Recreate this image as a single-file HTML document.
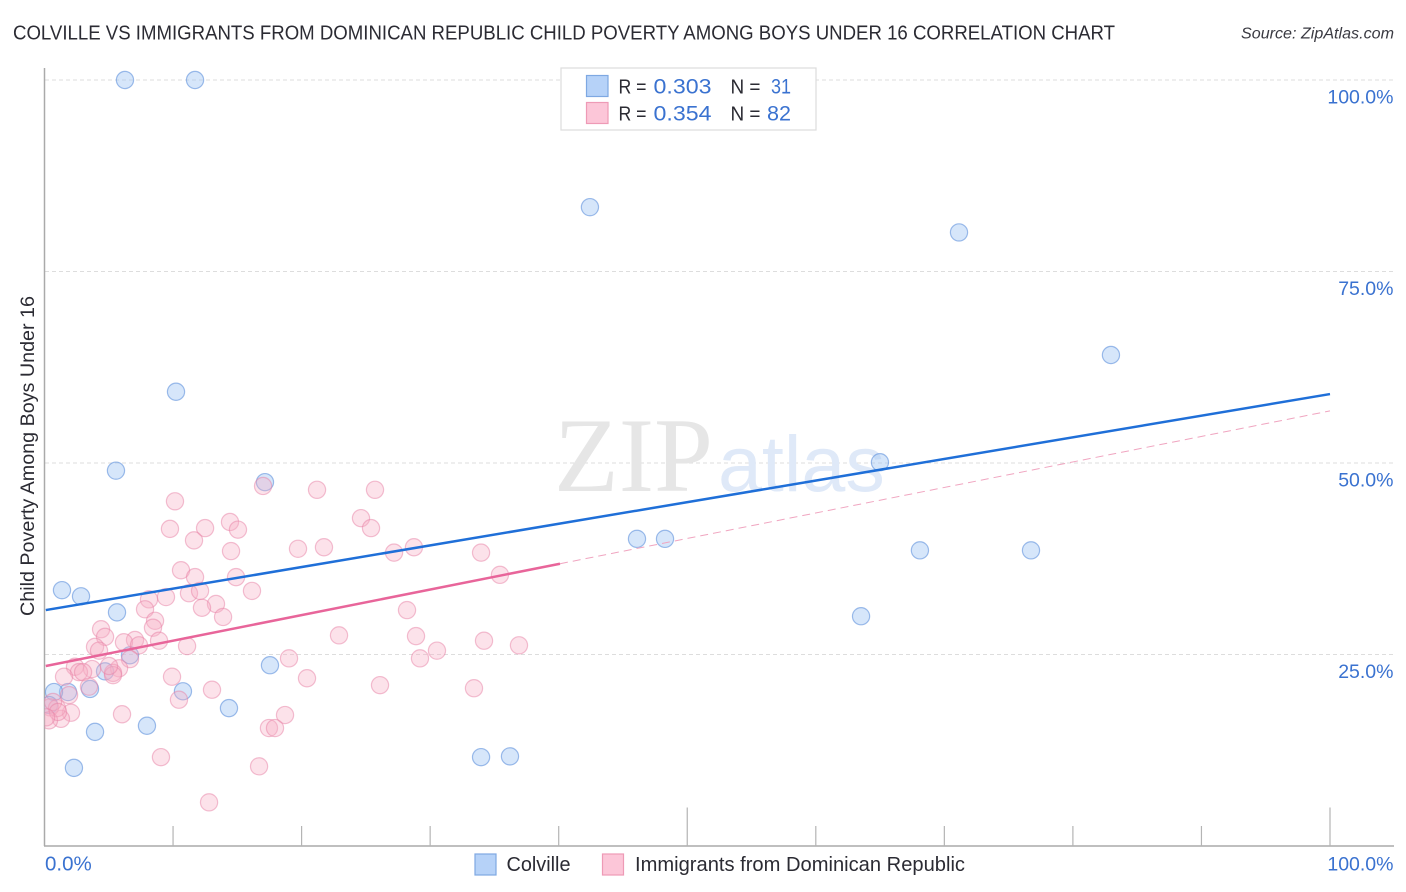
<!DOCTYPE html>
<html lang="en">
<head>
<meta charset="utf-8">
<title>Colville vs Immigrants from Dominican Republic Child Poverty Correlation Chart</title>
<style>
html,body{margin:0;padding:0;background:#fff;}
svg{display:block;font-family:"Liberation Sans",sans-serif;}
</style>
</head>
<body>
<svg id="chart" xmlns="http://www.w3.org/2000/svg" width="1406" height="892" viewBox="0 0 1406 892">
  <defs>
    <clipPath id="plot-clip"><rect x="44.5" y="60" width="1350" height="786"/></clipPath>
  </defs>
  <text x="13" y="39.5" font-size="20" fill="#2b2b33" textLength="1102" lengthAdjust="spacingAndGlyphs">COLVILLE VS IMMIGRANTS FROM DOMINICAN REPUBLIC CHILD POVERTY AMONG BOYS UNDER 16 CORRELATION CHART</text>
  <text x="1241" y="38.5" font-size="15.5" font-style="italic" fill="#3a3a42" textLength="153" lengthAdjust="spacingAndGlyphs">Source: ZipAtlas.com</text>
  <g id="grid"></g>
  <g>
    <text x="554" y="491" font-family="'Liberation Serif',serif" font-size="106" fill="#e6e6e6">ZIP</text>
    <text x="718" y="491" font-size="79" fill="#dfe9f8">atlas</text>
  </g>
  <g id="axes">
    <line x1="44.5" y1="68" x2="44.5" y2="846" stroke="#aaaaaa" stroke-width="1.5"/>
    <line x1="44" y1="846" x2="1394" y2="846" stroke="#aaaaaa" stroke-width="1.5"/>
  </g>
  <g id="points" clip-path="url(#plot-clip)"></g>
  <g id="trends"></g>
  <g id="tick-labels"></g>
  <text transform="translate(34,616) rotate(-90)" font-size="19" fill="#2b2b33" textLength="320" lengthAdjust="spacingAndGlyphs">Child Poverty Among Boys Under 16</text>

  <g>
    <rect x="561" y="68" width="255" height="62" fill="#fff" stroke="#dcdcdc" stroke-width="1.2"/>
    <rect x="586.5" y="75.5" width="21.5" height="21" fill="#b6d2f8" stroke="#7ea8e2" stroke-width="1.2"/>
    <rect x="586.5" y="102.5" width="21.5" height="21" fill="#fcc6d8" stroke="#ee9ab6" stroke-width="1.2"/>
    <text x="618.5" y="93.5" font-size="20" fill="#2b2b33" textLength="28" lengthAdjust="spacingAndGlyphs">R =</text>
    <text x="653.5" y="93.5" font-size="21" fill="#3a72d0" textLength="58" lengthAdjust="spacingAndGlyphs">0.303</text>
    <text x="730.5" y="93.5" font-size="20" fill="#2b2b33" textLength="30" lengthAdjust="spacingAndGlyphs">N =</text>
    <text x="771" y="93.5" font-size="21" fill="#3a72d0" textLength="20" lengthAdjust="spacingAndGlyphs">31</text>
    <text x="618.5" y="120.5" font-size="20" fill="#2b2b33" textLength="28" lengthAdjust="spacingAndGlyphs">R =</text>
    <text x="653.5" y="120.5" font-size="21" fill="#3a72d0" textLength="58" lengthAdjust="spacingAndGlyphs">0.354</text>
    <text x="730.5" y="120.5" font-size="20" fill="#2b2b33" textLength="30" lengthAdjust="spacingAndGlyphs">N =</text>
    <text x="767" y="120.5" font-size="21" fill="#3a72d0" textLength="24" lengthAdjust="spacingAndGlyphs">82</text>
  </g>

  <g>
    <rect x="475" y="854" width="21" height="21" fill="#b6d2f8" stroke="#7ea8e2" stroke-width="1.2"/>
    <text x="506.5" y="871" font-size="20" fill="#2b2b33" textLength="64" lengthAdjust="spacingAndGlyphs">Colville</text>
    <rect x="602.5" y="854" width="21" height="21" fill="#fcc6d8" stroke="#ee9ab6" stroke-width="1.2"/>
    <text x="635" y="871" font-size="20" fill="#2b2b33" textLength="330" lengthAdjust="spacingAndGlyphs">Immigrants from Dominican Republic</text>
  </g>
</svg>

<script>
// Chart data (values in percent)
const colvilleX = [6.26,11.71,42.43,71.14,82.96,10.23,5.56,17.15,64.99,46.09,48.27,68.1,76.74,1.36,2.84,5.64,63.52,6.65,17.54,4.71,10.77,1.83,3.54,0.74,14.35,7.97,3.93,33.96,36.21,2.29,0.35];
const colvilleY = [100,100,83.4,80.1,64.1,59.3,49,47.5,50.1,40.1,40.1,38.6,38.6,33.4,32.6,30.5,30,24.9,23.6,22.8,20.2,20.1,20.5,20.1,18,15.7,14.9,11.6,11.7,10.2,18.4];
const immigrantsX = [10.15,9.76,12.49,11.63,14.43,15.05,14.51,17,21.2,19.72,21.74,10.62,11.71,14.9,16.14,11.24,12.1,13.34,12.25,13.89,9.45,8.13,7.82,8.6,8.44,8.91,11.09,7.04,6.18,7.35,4.4,4.71,3.93,4.24,22.91,19.02,20.42,9.92,13.03,10.46,18.71,17.46,17.93,6.03,9.06,16.69,12.8,6.65,5.8,5.33,5.33,5.02,3.7,2.37,2.68,3,1.52,3.46,1.91,2.06,1.28,0.43,0.97,0.66,0.35,1.05,0.12,25.71,24.62,25.4,27.19,28.74,33.96,35.43,28.2,28.9,30.53,29.21,34.19,36.91,26.1,33.41];
const immigrantsY = [45,41.4,41.5,39.9,42.3,41.3,38.5,47,46.5,38.8,39,36,35.1,35.1,33.3,33,33.3,31.6,31.1,29.9,32.5,32.2,30.9,29.4,28.5,26.8,26.1,26.9,26.6,26.2,28.3,27.3,26,25.5,27.5,24.5,21.9,22.1,20.4,19.1,17.1,15.4,15.4,17.2,11.6,10.4,5.7,24.4,23.2,22.6,22.3,23.5,23.1,23.4,22.7,22.7,22.1,20.8,19.7,17.4,16.6,18.1,18,18.8,16.4,17.5,16.8,46.5,42.8,41.5,38.3,39,38.3,35.4,30.8,27.4,25.5,24.5,26.8,26.2,21,20.6];
const colvilleTrendX = [0.1,100];
const colvilleTrendY = [30.8,59];
const immigrantsSolidX = [0.1,40.1];
const immigrantsSolidY = [23.5,36.85];
const immigrantsDashX = [40.1,100];
const immigrantsDashY = [36.85,56.8];
const yTicks = [100,75,50,25];
const yTickLabels = ['100.0%','75.0%','50.0%','25.0%'];
const xTicks = [10,20,30,40,50,60,70,80,90,100];
const xMajorTicks = [50,100];
const xEndTicks = [0,100];
const xEndLabels = ['0.0%','100.0%'];

// Axis functions
function xScale(v){ return 44.5 + v * 12.855; }
function yScale(v){ return 846 - v * 7.66; }

const NS = 'http://www.w3.org/2000/svg';
function make(tag, parent){
  const el = document.createElementNS(NS, tag);
  parent.appendChild(el);
  return el;
}

const grid = document.getElementById('grid');
const axes = document.getElementById('axes');
const points = document.getElementById('points');
const trends = document.getElementById('trends');
const tickLabels = document.getElementById('tick-labels');

yTicks.forEach(function(t, i){
  const g = make('line', grid);
  
  
  g.setAttribute('x1', 45);
  g.setAttribute('x2', 1393);
  g.setAttribute('y1', yScale(t));
  g.setAttribute('y2', yScale(t));
  g.setAttribute('stroke', '#dddddd');
  g.setAttribute('stroke-width', '1');
  g.setAttribute('stroke-dasharray', '4 3');

  const lb = make('text', tickLabels);
  
  
  lb.setAttribute('x', 1393.5);
  lb.setAttribute('y', yScale(t) + 23.5);
  lb.setAttribute('text-anchor', 'end');
  lb.setAttribute('font-size', '19.5');
  lb.setAttribute('fill', '#3a72d0');
  lb.textContent = yTickLabels[i];
});

xTicks.forEach(function(t){
  const k = make('line', axes);
  
  
  k.setAttribute('x1', xScale(t));
  k.setAttribute('x2', xScale(t));
  k.setAttribute('y1', xMajorTicks.indexOf(t) >= 0 ? 807.5 : 826);
  k.setAttribute('y2', 846);
  k.setAttribute('stroke', '#b4b4b4');
  k.setAttribute('stroke-width', '1.2');
});

xEndTicks.forEach(function(t, i){
  const lb = make('text', tickLabels);
  
  
  lb.setAttribute('x', i === 0 ? xScale(t) + 0.5 : 1393.5);
  lb.setAttribute('y', 870.5);
  lb.setAttribute('text-anchor', i === 0 ? 'start' : 'end');
  lb.setAttribute('font-size', i === 0 ? '20.5' : '19.5');
  lb.setAttribute('fill', '#3a72d0');
  lb.textContent = xEndLabels[i];
});

colvilleX.forEach(function(v, i){
  const c = make('circle', points);
  
  
  c.setAttribute('cx', xScale(v));
  c.setAttribute('cy', yScale(colvilleY[i]));
  c.setAttribute('r', 8.6);
  c.setAttribute('fill', 'rgba(165,200,245,0.45)');
  c.setAttribute('stroke', 'rgba(95,145,220,0.6)');
  c.setAttribute('stroke-width', '1.2');
});

immigrantsX.forEach(function(v, i){
  const c = make('circle', points);
  
  
  c.setAttribute('cx', xScale(v));
  c.setAttribute('cy', yScale(immigrantsY[i]));
  c.setAttribute('r', 8.6);
  c.setAttribute('fill', 'rgba(248,175,198,0.36)');
  c.setAttribute('stroke', 'rgba(232,130,165,0.5)');
  c.setAttribute('stroke-width', '1.2');
});

const dashTrend = make('line', trends);


dashTrend.setAttribute('x1', xScale(immigrantsDashX[0]));
dashTrend.setAttribute('y1', yScale(immigrantsDashY[0]));
dashTrend.setAttribute('x2', xScale(immigrantsDashX[1]));
dashTrend.setAttribute('y2', yScale(immigrantsDashY[1]));
dashTrend.setAttribute('stroke', '#f0a5c0');
dashTrend.setAttribute('stroke-width', '1');
dashTrend.setAttribute('stroke-dasharray', '8 5');

const pinkTrend = make('line', trends);


pinkTrend.setAttribute('x1', xScale(immigrantsSolidX[0]));
pinkTrend.setAttribute('y1', yScale(immigrantsSolidY[0]));
pinkTrend.setAttribute('x2', xScale(immigrantsSolidX[1]));
pinkTrend.setAttribute('y2', yScale(immigrantsSolidY[1]));
pinkTrend.setAttribute('stroke', '#e8659a');
pinkTrend.setAttribute('stroke-width', '2.5');

const blueTrend = make('line', trends);


blueTrend.setAttribute('x1', xScale(colvilleTrendX[0]));
blueTrend.setAttribute('y1', yScale(colvilleTrendY[0]));
blueTrend.setAttribute('x2', xScale(colvilleTrendX[1]));
blueTrend.setAttribute('y2', yScale(colvilleTrendY[1]));
blueTrend.setAttribute('stroke', '#1f6fd8');
blueTrend.setAttribute('stroke-width', '2.5');
</script>
</body>
</html>
